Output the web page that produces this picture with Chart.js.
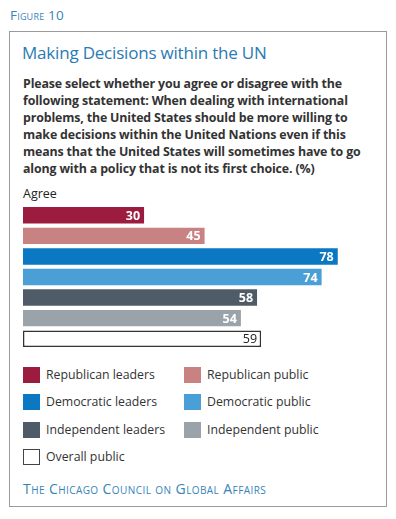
<!DOCTYPE html>
<html>
<head>
<meta charset="utf-8">
<script src="https://cdn.jsdelivr.net/npm/chart.js@4"></script>
<style>
  body { margin: 0; background: #fff; font-family: "Open Sans", sans-serif; }
  #page { position: relative; width: 396px; height: 519px; }
  .abs { position: absolute; }
  #fig { left: 10px; top: 6px; font-size: 13.5px; color: #3784b8; font-variant: small-caps; letter-spacing: 0.2px; }
  #box { left: 9px; top: 31px; width: 376px; height: 474px; border: 1px solid #9a9a9a; }
  #title { left: 22px; top: 41px; font-size: 17px; color: #2a7bb3; letter-spacing: -0.2px; }
  #sub { left: 23px; top: 76px; font-size: 12.4px; font-weight: bold; color: #333; line-height: 16.9px; letter-spacing: -0.15px; }
  #agree { left: 23px; top: 185px; font-size: 12.5px; color: #222; }
  #chart { left: 23px; top: 205px; }
  .leg { position: absolute; font-size: 12.3px; color: #333; }
  .leg i { position: absolute; left: 0; top: 0; width: 17px; height: 16px; box-sizing: border-box; }
  .leg span { position: absolute; left: 23px; top: -1px; white-space: nowrap; }
  #foot { left: 23px; top: 479px; font-size: 14px; color: #3784b8; font-variant: small-caps; letter-spacing: 0.42px; }
</style>
</head>
<body>
<div id="page">
  <div id="fig" class="abs">Figure 10</div>
  <div id="box" class="abs"></div>
  <div id="title" class="abs">Making Decisions within the UN</div>
  <div id="sub" class="abs">Please select whether you agree or disagree with the<br>following statement: When dealing with international<br>problems, the United States should be more willing to<br>make decisions within the United Nations even if this<br>means that the United States will sometimes have to go<br>along with a policy that is not its first choice. (%)</div>
  <div id="agree" class="abs">Agree</div>
  <canvas id="chart" class="abs" width="343" height="144"></canvas>
  <div id="legend"></div>
  <div id="foot" class="abs">The Chicago Council on Global Affairs</div>
</div>
<script>
const groups = ["Republican leaders", "Republican public", "Democratic leaders", "Democratic public",
  "Independent leaders", "Independent public", "Overall public"];
const agree = [30, 45, 78, 74, 58, 54, 59];
const colors = ["#9c1c3f", "#c98282", "#0a78c2", "#4aa0d6", "#4f5c68", "#9aa2aa", "#ffffff"];
const labelColors = ["#fff", "#fff", "#fff", "#fff", "#fff", "#fff", "#222"];

// value labels at the end of each bar
const barLabels = {
  id: "barLabels",
  afterDatasetsDraw(chart) {
    const ctx = chart.ctx;
    chart.getDatasetMeta(0).data.forEach((bar, i) => {
      ctx.save();
      ctx.font = (i === 6 ? "" : "bold ") + "12.5px 'Open Sans'";
      ctx.fillStyle = labelColors[i];
      ctx.textAlign = "right";
      ctx.textBaseline = "middle";
      ctx.fillText(agree[i], bar.x - 4, bar.y + 1);
      ctx.restore();
    });
  }
};

new Chart(document.getElementById("chart"), {
  type: "bar",
  data: {
    labels: groups,
    datasets: [{
      data: agree,
      backgroundColor: colors,
      borderColor: "#333",
      borderWidth: agree.map((v, i) => i === 6 ? 1.5 : 0),
      borderSkipped: false,
      categoryPercentage: 0.8,
      barPercentage: 1
    }]
  },
  options: {
    indexAxis: "y",
    responsive: false,
    animation: false,
    layout: { padding: 0 },
    plugins: { legend: { display: false }, tooltip: { enabled: false } },
    scales: {
      x: { display: false, min: 0, max: 85 },
      y: { display: false }
    }
  },
  plugins: [barLabels]
});

// two-column legend
const legend = document.getElementById("legend");
groups.forEach((g, i) => {
  const d = document.createElement("div");
  d.className = "leg";
  d.style.left = (i % 2 === 0 ? 23 : 184) + "px";
  d.style.top = (367 + Math.floor(i / 2) * 27.3) + "px";
  const sw = document.createElement("i");
  sw.style.background = colors[i];
  if (i === 6) sw.style.border = "1.5px solid #444";
  const t = document.createElement("span");
  t.textContent = g;
  d.appendChild(sw);
  d.appendChild(t);
  legend.appendChild(d);
});
</script>
</body>
</html>
